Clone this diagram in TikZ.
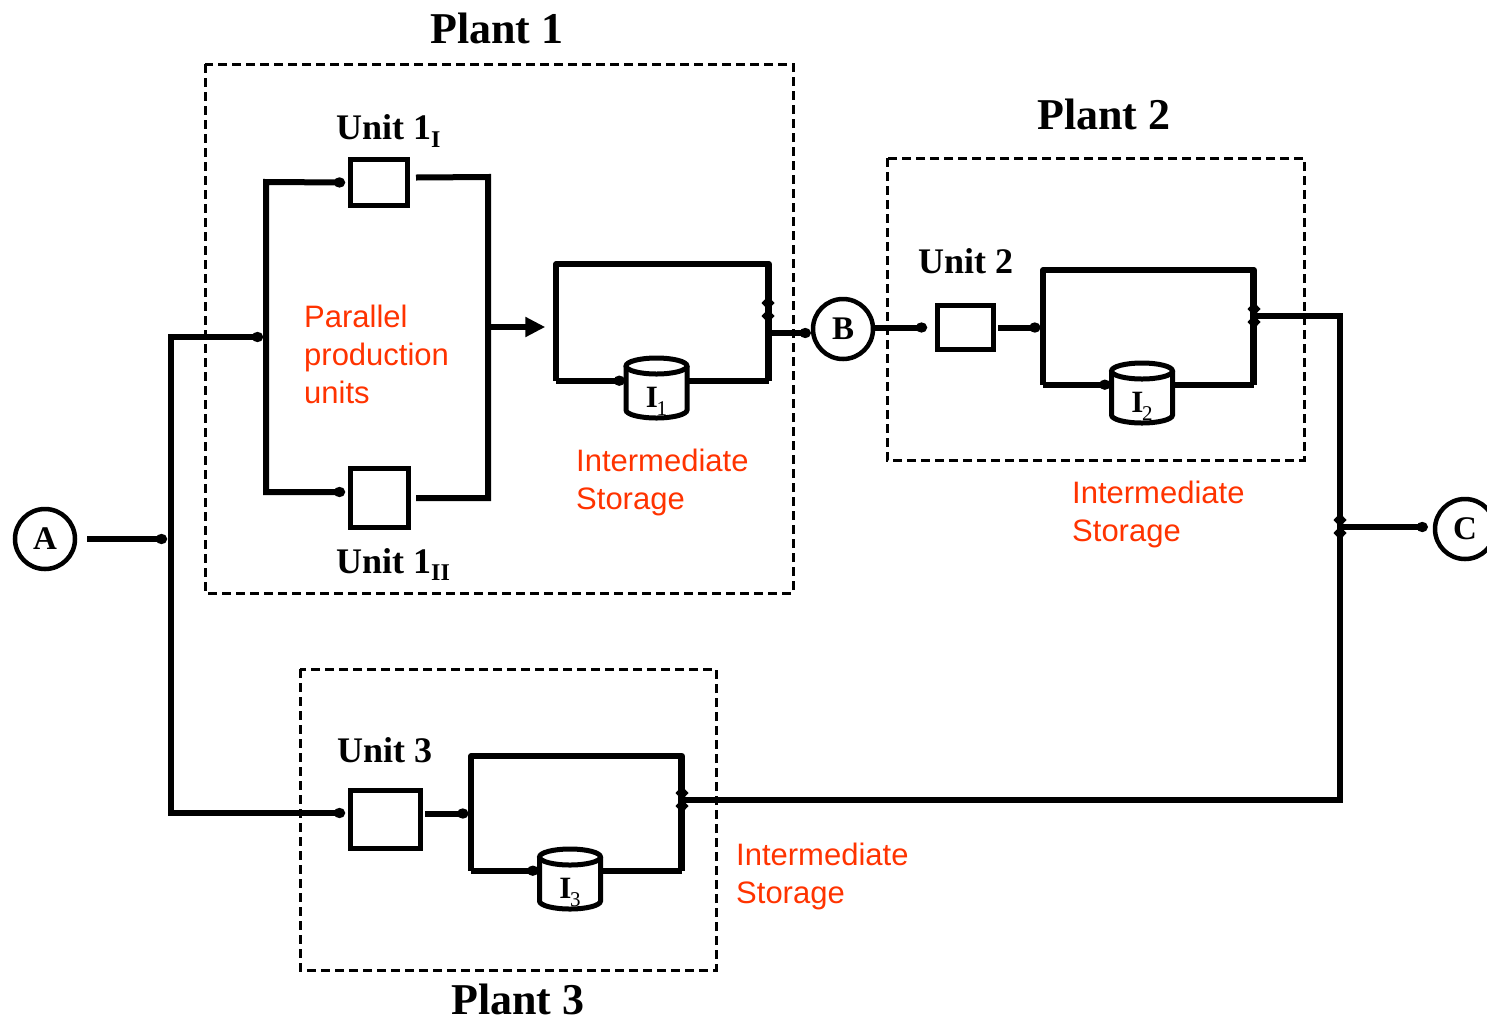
\documentclass[tikz,border=0pt]{standalone}
\usepackage{fontspec}
\setmainfont{Liberation Serif}
\newfontfamily\arialfont{Liberation Sans}
\usetikzlibrary{arrows.meta,calc}
\definecolor{redlbl}{HTML}{FF3300}
\newcommand\lowsub[2][7pt]{\raisebox{-#1}{\fontsize{24}{24}\selectfont #2}}
\newcommand\storelbl[1]{{\fontsize{31}{31}\selectfont\bfseries I}\kern-1.5pt\raisebox{-8pt}{\fontsize{21}{21}\selectfont #1}}
\newcommand\drawcylinder[1]{%
  \draw[cyl] ($(#1)+(-30.5,-35)$) -- ($(#1)+(-30.5,9)$) arc[start angle=180,end angle=0,x radius=30.5,y radius=8] -- ($(#1)+(30.5,-35)$);
  \draw[cyl] ($(#1)+(0,-35)$) ellipse[x radius=30.5,y radius=8];}
\newcommand\dmd[2]{\fill (#1,#2-7) -- (#1+6.5,#2) -- (#1,#2+7) -- (#1-6.5,#2) -- cycle;}
\begin{document}
\begin{tikzpicture}[x=1pt,y=-1pt,
  conn/.style={line width=6pt},
  dotend/.style={conn,-{Circle[length=11pt,width=10pt]}},
  dotboth/.style={conn,{Circle[length=11pt,width=10pt]}-{Circle[length=11pt,width=10pt]}},
  unitbox/.style={draw,line width=5pt,inner sep=0pt},
  station/.style={circle,draw,line width=4.5pt,inner sep=0pt,minimum size=60pt,font=\bfseries\fontsize{33}{33}\selectfont},
  plantbox/.style={line width=3pt,dash pattern=on 9pt off 5pt},
  store/.style={inner sep=0pt},
  cylnode/.style={inner sep=0pt,minimum width=61pt,minimum height=30pt},
  cyl/.style={line width=5pt},
  title/.style={font=\bfseries\fontsize{44}{44}\selectfont,anchor=base,inner sep=0pt},
  unitlbl/.style={font=\bfseries\fontsize{36}{36}\selectfont,anchor=base west,inner sep=0pt},
  redtxt/.style={font=\arialfont\fontsize{31}{31}\selectfont,text=redlbl,anchor=base west,inner sep=0pt}
]
\useasboundingbox (0,0) rectangle (1487,1021);

% plant frames
\draw[plantbox] (205,64) rectangle (793,593);
\draw[plantbox] (887,158) rectangle (1304,460);
\draw[plantbox] (300,669) rectangle (716,970);

\node[title] (t1) at (497,43) {Plant 1};
\node[title] (t2) at (1104,129) {Plant 2};
\node[title] (t3) at (518,1014) {Plant 3};

% stations
\node[station] (A) at (45,539) {A};
\node[station] (B) at (843,329) {B};
\node[station] (C) at (1465,529) {C};

% units
\node[unitbox,minimum width=57pt,minimum height=46pt] (u1a) at (379,182.5) {};
\node[unitbox,minimum width=58pt,minimum height=59pt] (u1b) at (379.5,498) {};
\node[unitbox,minimum width=56pt,minimum height=44pt] (u2) at (965.5,327.5) {};
\node[unitbox,minimum width=70pt,minimum height=58pt] (u3) at (385.5,819.5) {};

\node[unitlbl] (lu1a) at (336,139) {Unit 1\lowsub[8pt]{I}};
\node[unitlbl] (lu1b) at (336,573) {Unit 1\lowsub{II}};
\node[unitlbl] (lu2) at (918,273) {Unit 2};
\node[unitlbl] (lu3) at (337,762) {Unit 3};

% storage frames
\node[store,minimum width=212pt,minimum height=116pt] (s1) at (662.5,322.5) {};
\node[store,minimum width=210pt,minimum height=114pt] (s2) at (1148.5,327.5) {};
\node[store,minimum width=210pt,minimum height=114pt] (s3) at (576.5,813.5) {};
\foreach \s in {s1,s2,s3}{
  \draw[conn,line join=round] (\s.south west) -- (\s.north west) -- (\s.north east) -- (\s.south east);
  \draw[line width=7.5pt] (\s.north east) -- (\s.south east);
}

% cylinders
\node[cylnode] (c1) at (656.5,401) {\storelbl{1}};
\node[cylnode] (c2) at (1142,406) {\storelbl{2}};
\node[cylnode] (c3) at (570,892) {\storelbl{3}};
\drawcylinder{c1}
\drawcylinder{c2}
\drawcylinder{c3}

\foreach \s/\c in {s1/c1,s2/c2,s3/c3}{
  \draw[dotend] (\s.south west) -- ([xshift=-1]\c.west |- \s.south);
  \draw[conn] (\c.east |- \s.south) -- (\s.south east);
}

% junction coordinates
\coordinate (jA) at (171,539);
\coordinate (jA1) at (171,337);
\coordinate (jA2) at (171,813);
\coordinate (b1m) at (266,337);
\coordinate (b1t) at (266,182);
\coordinate (b1b) at (266,492);
\coordinate (r1t) at (488,177);
\coordinate (r1m) at (488,327);
\coordinate (r1b) at (488,498);
\coordinate (j2t) at (1340,316);
\coordinate (jC) at (1340,527);
\coordinate (j2b) at (1340,800);

% input side
\draw[dotend] ([xshift=10]A.east) -- ([xshift=-4]jA);
\draw[dotboth] ([xshift=-3]u3.west |- jA2) -- (jA2) -- (jA1) -- ([xshift=-3]b1m);

% plant 1 parallel units
\draw[dotboth] ([xshift=-3]u1a.west) -- (b1t) -- (b1b) -- ([xshift=-3]u1b.west |- b1b);
\draw[conn] ([shift={(6,-5)}]u1a.east) -- (r1t) -- (r1b) -- ([xshift=5]u1b.east);
\draw[conn,-{Triangle[length=20pt,width=19pt]}] (r1m) -- ([xshift=-11]s1.west |- r1m);

% plant 1 -> B -> plant 2
\draw[dotend] ([yshift=-4]s1.east |- B) -- ([yshift=-4]B.west);
\draw[dotend] (B.east |- u2.west) -- ([xshift=-8]u2.west);
\draw[dotend] ([xshift=2]u2.east) -- ([xshift=-3]s2.west);

% plant 3
\draw[dotend] ([xshift=2]u3.east |- s3.west) -- ([xshift=-3]s3.west);

% outputs to C
\draw[conn,line join=miter] (s2.east |- j2t) -- (j2t) -- (j2b) -- (s3.east |- j2b);
\draw[dotend,shorten >=5pt] (jC) -- (C.west |- jC);

% junction markers
\dmd{768}{303}\dmd{768}{316}
\dmd{1254}{309}\dmd{1254}{322}
\dmd{682}{793}\dmd{682}{806}
\dmd{1340}{520}\dmd{1340}{533}

% red labels
\node[redtxt] (par1) at (304,327) {Parallel};
\node[redtxt] (par2) at (304,365) {production};
\node[redtxt] (par3) at (304,403) {units};
\node[redtxt] (is1a) at (576,471) {Intermediate};
\node[redtxt] (is1b) at (576,509) {Storage};
\node[redtxt] (is2a) at (1072,503) {Intermediate};
\node[redtxt] (is2b) at (1072,541) {Storage};
\node[redtxt] (is3a) at (736,865) {Intermediate};
\node[redtxt] (is3b) at (736,903) {Storage};
\end{tikzpicture}
\end{document}
